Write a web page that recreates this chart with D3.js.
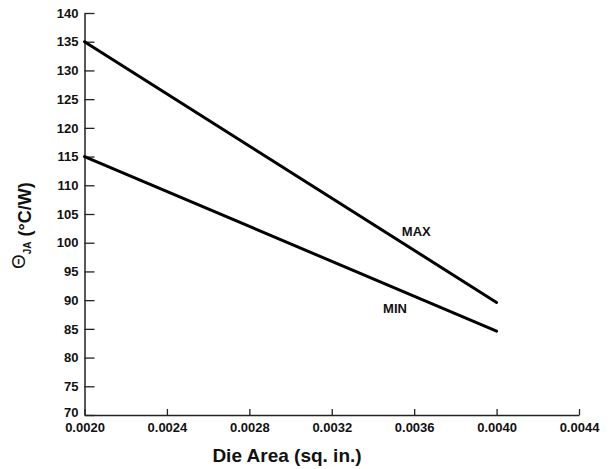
<!DOCTYPE html>
<html><head><meta charset="utf-8">
<script src="https://cdn.jsdelivr.net/npm/d3@7"></script>
<style>body{margin:0;background:#fff}svg{display:block}text{font-family:"Liberation Sans",Arial,sans-serif;font-weight:bold;fill:#111}</style>
</head><body>
<script>
const areas = [0.0020, 0.0040];
const maxValues = [135, 89.6];
const minValues = [115, 84.6];
const xTicks = [0.0020, 0.0024, 0.0028, 0.0032, 0.0036, 0.0040, 0.0044];
const yTicks = [70, 75, 80, 85, 90, 95, 100, 105, 110, 115, 120, 125, 130, 135, 140];

const W = 611, H = 469;
const svg = d3.select("body").append("svg").attr("width", W).attr("height", H);
const x = d3.scaleLinear().domain([0.0020, 0.0044]).range([84.5, 579]);
const y = d3.scaleLinear().domain([70, 140]).range([415, 13]);

const ax = svg.append("g").attr("transform", `translate(0,${y(70)})`)
  .call(d3.axisBottom(x).tickValues(xTicks).tickFormat(d3.format(".4f")).tickSizeInner(-6).tickSizeOuter(0).tickPadding(8));
ax.select(".domain").attr("stroke", "#222").attr("stroke-width", 1.5);
ax.selectAll(".tick line").attr("stroke", "#222").attr("stroke-width", 1.3);
ax.selectAll(".tick text").attr("font-size", 13).attr("font-family", "Liberation Sans, Arial").attr("font-weight", "bold").attr("fill", "#111");

const ay = svg.append("g").attr("transform", `translate(${x(0.0020)},0)`)
  .call(d3.axisLeft(y).tickValues(yTicks).tickSizeInner(-10).tickSizeOuter(0).tickPadding(6));
ay.select(".domain").attr("stroke", "#222").attr("stroke-width", 1.5);
ay.selectAll(".tick line").attr("stroke", "#222").attr("stroke-width", 1.3);
ay.selectAll(".tick text").attr("font-size", 13).attr("font-family", "Liberation Sans, Arial").attr("font-weight", "bold").attr("fill", "#111");
ay.selectAll(".tick").filter(d => d === 70).select("text").attr("dy", "0.1em");

const line = d3.line().x((d, i) => x(areas[i])).y(d => y(d));
[maxValues, minValues].forEach(vals => {
  svg.append("path").datum(vals).attr("d", line)
    .attr("fill", "none").attr("stroke", "#000").attr("stroke-width", 3).attr("stroke-linecap", "round");
});

svg.append("text").attr("x", x(0.00354)).attr("y", y(101.1)).attr("font-size", 13).text("MAX");
svg.append("text").attr("x", x(0.003449)).attr("y", y(87.8)).attr("font-size", 13).text("MIN");

svg.append("text").attr("x", 287).attr("y", 462).attr("text-anchor", "middle").attr("font-size", 19).text("Die Area (sq. in.)");

const yl = svg.append("text").attr("transform", "translate(31,269) rotate(-90)").attr("text-anchor", "start").attr("font-size", 18);
yl.append("tspan").attr("font-weight", "normal").attr("font-size", 19).attr("dy", -6).text("Θ");
yl.append("tspan").attr("dy", 6).attr("font-size", 10).text("JA");
yl.append("tspan").text(" (°C/W)");
</script>
</body></html>
